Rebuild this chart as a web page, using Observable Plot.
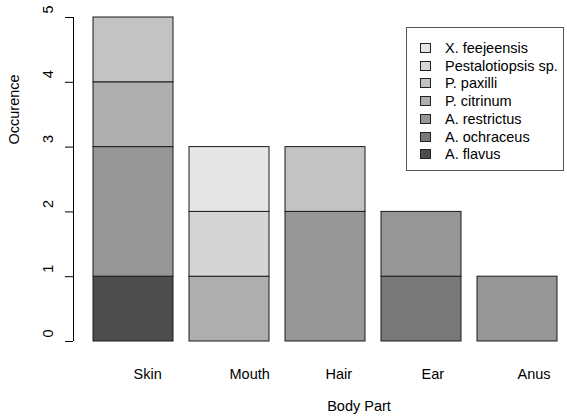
<!DOCTYPE html>
<html>
<head>
<meta charset="utf-8">
<script src="https://cdn.jsdelivr.net/npm/d3@7"></script>
<script src="https://cdn.jsdelivr.net/npm/@observablehq/plot@0.6"></script>
<style>
  html, body { margin: 0; padding: 0; background: #fff; }
  #wrap { position: relative; width: 567px; height: 419px; font-family: "Liberation Sans", Arial, Helvetica, sans-serif; }
  #wrap svg { position: absolute; left: 0; top: 0; }
  #legend { position: absolute; left: 406px; top: 27px; width: 158px; height: 144px; border: 1px solid #555; box-sizing: border-box; background: #fff; }
  .item { position: absolute; left: 0; height: 18px; display: flex; align-items: center; font-size: 14.5px; color: #000; white-space: nowrap; }
  .sw { width: 11px; height: 10px; box-sizing: border-box; border: 1px solid #222; margin-left: 13px; margin-right: 14px; }
</style>
</head>
<body>
<div id="wrap"></div>
<script>
// ---- data ----
const parts = ["Skin", "Mouth", "Hair", "Ear", "Anus"];
// species listed bottom-to-top of each stack
const species = ["A. flavus", "A. ochraceus", "A. restrictus", "P. citrinum", "P. paxilli", "Pestalotiopsis sp.", "X. feejeensis"];
const grays = ["#4D4D4D", "#787878", "#969696", "#AEAEAE", "#C3C3C3", "#D5D5D5", "#E6E6E6"];
// counts per body part (Skin, Mouth, Hair, Ear, Anus)
const aFlavus        = [1, 0, 0, 0, 0];
const aOchraceus     = [0, 0, 0, 1, 0];
const aRestrictus    = [2, 0, 2, 1, 1];
const pCitrinum      = [1, 1, 0, 0, 0];
const pPaxilli       = [1, 0, 1, 0, 0];
const pestalotiopsis = [0, 1, 0, 0, 0];
const xFeejeensis    = [0, 1, 0, 0, 0];
const yTicks = [0, 1, 2, 3, 4, 5];
const xTitle = "Body Part";
const yTitle = "Occurence";

const counts = [aFlavus, aOchraceus, aRestrictus, pCitrinum, pPaxilli, pestalotiopsis, xFeejeensis];
const table = [];
species.forEach((s, i) => parts.forEach((p, j) => table.push({species: s, part: p, count: counts[i][j]})));

const FONT = 14.5;

function axisLine(index, scales, values, dimensions) {
  const x = dimensions.marginLeft + 0.5;
  const line = document.createElementNS("http://www.w3.org/2000/svg", "line");
  line.setAttribute("x1", x);
  line.setAttribute("x2", x);
  line.setAttribute("y1", scales.y(yTicks[0]));
  line.setAttribute("y2", scales.y(yTicks[yTicks.length - 1]));
  line.setAttribute("stroke", "#000");
  return line;
}

const chart = Plot.plot({
  width: 567,
  height: 419,
  marginLeft: 73,
  marginRight: 9,
  marginTop: 17,
  marginBottom: 78,
  style: {fontFamily: '"Liberation Sans", Arial, Helvetica, sans-serif', fontSize: FONT + "px", background: "#fff", color: "#000"},
  x: {domain: parts, range: [92, 558], paddingInner: 0.166, paddingOuter: 0, label: null},
  y: {domain: [0, 5], label: null},
  color: {domain: species, range: grays},
  marks: [
    Plot.barY(table, {x: "part", y: "count", fill: "species", stroke: "#1a1a1a", strokeWidth: 1}),
    Plot.axisY({ticks: yTicks, tickSize: 8, tickFormat: () => "", label: null}),
    axisLine,
    Plot.text(yTicks, {y: d => d, text: d => String(d), frameAnchor: "left", rotate: -90, dx: -25, dy: -4, fontSize: FONT, fill: "#000"}),
    Plot.axisX({tickSize: 0, tickPadding: 27, textAnchor: "start", fontSize: FONT, label: null}),
    Plot.text([xTitle], {text: d => d, frameAnchor: "bottom", dx: 43, dy: 69, fontSize: FONT, fill: "#000"}),
    Plot.text([yTitle], {text: d => d, frameAnchor: "left", rotate: -90, dx: -59, dy: -35, fontSize: FONT, fill: "#000"})
  ]
});

const wrap = document.getElementById("wrap");
wrap.appendChild(chart);

// legend (top entry = top of stack)
const legend = document.createElement("div");
legend.id = "legend";
const rowTop = 11, rowStep = 17.7;
species.slice().reverse().forEach((s, k) => {
  const idx = species.indexOf(s);
  const item = document.createElement("div");
  item.className = "item";
  item.style.top = (rowTop + k * rowStep) + "px";
  const sw = document.createElement("div");
  sw.className = "sw";
  sw.style.background = grays[idx];
  const label = document.createElement("span");
  label.textContent = s;
  item.appendChild(sw);
  item.appendChild(label);
  legend.appendChild(item);
});
wrap.appendChild(legend);
</script>
</body>
</html>
